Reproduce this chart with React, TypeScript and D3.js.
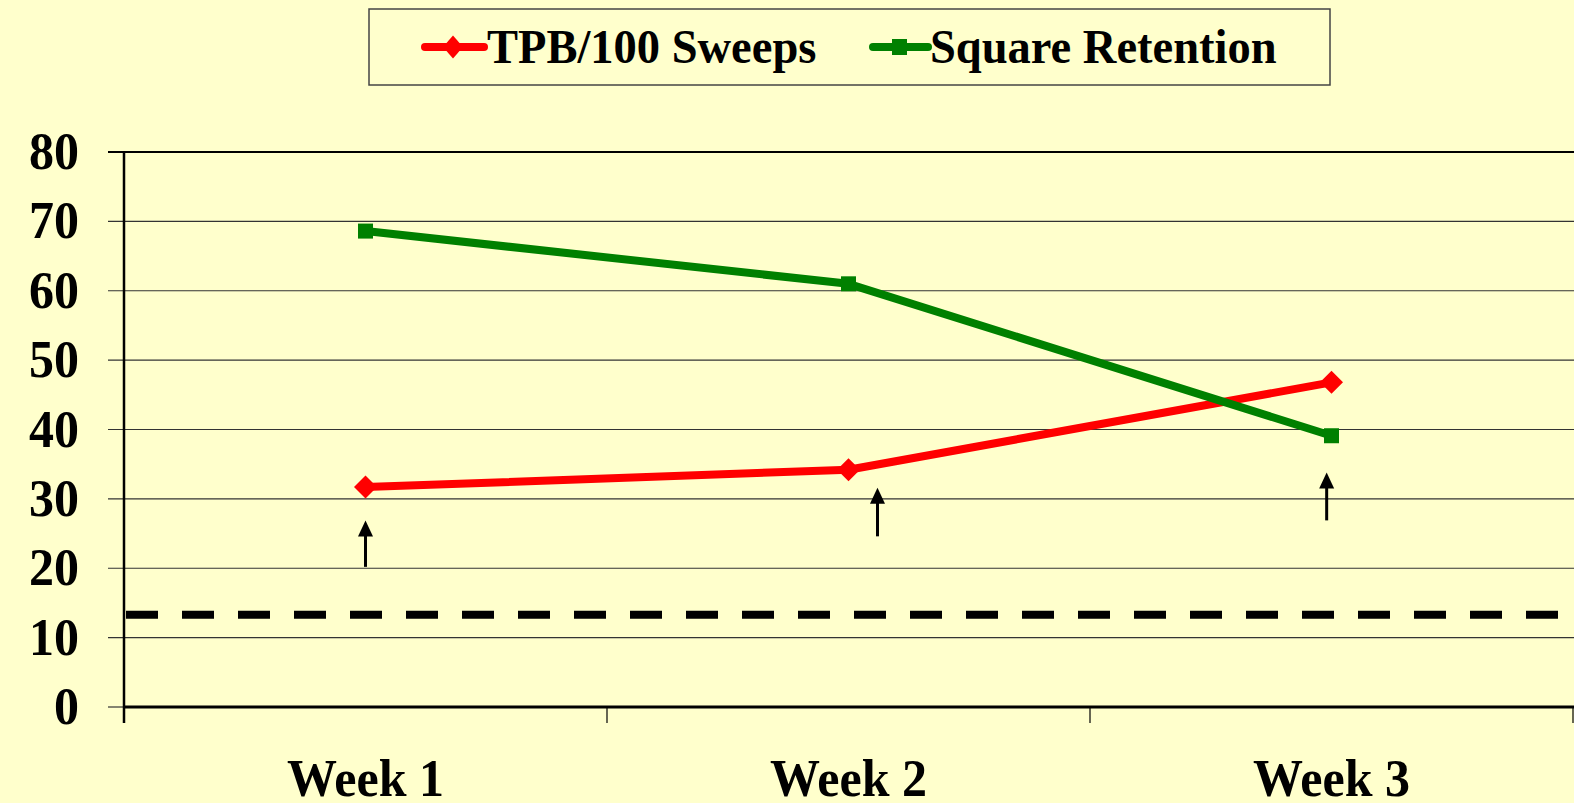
import * as d3 from 'd3';
import React from 'react';

const weeks = ['Week 1', 'Week 2', 'Week 3'];
const tpbSweeps = [31.7, 34.2, 46.8];
const squareRetention = [68.6, 61.0, 39.1];
const yTicks = [0, 10, 20, 30, 40, 50, 60, 70, 80];
const targetLevel = 13.3;
// arrow annotations: category, position inside band (0..1), from value, to value
const arrowWeeks = ['Week 1', 'Week 2', 'Week 3'];
const arrowBandPos = [0.5, 0.56, 0.49];
const arrowFrom = [20.2, 24.6, 26.9];
const arrowTo = [26.9, 31.6, 33.8];

export default function App() {
  const width = 1574;
  const height = 803;
  const marginLeft = 124;
  const marginRight = 1;
  const marginTop = 152;
  const marginBottom = 96;
  const font = '"Liberation Serif", "Times New Roman", serif';
  const bg = '#FFFFCC';

  const x = d3.scaleBand<string>()
    .domain(weeks)
    .range([marginLeft, width - marginRight]);
  const y = d3.scaleLinear()
    .domain([0, 80])
    .range([height - marginBottom, marginTop]);
  const cx = (w: string) => (x(w) ?? 0) + x.bandwidth() / 2;

  const line = d3.line<number>()
    .x((_, i) => cx(weeks[i]))
    .y((d) => y(d));

  const diamond = (px: number, py: number, rx: number, ry: number) =>
    `M${px},${py - ry}L${px + rx},${py}L${px},${py + ry}L${px - rx},${py}Z`;

  const bands = [...weeks.map((w) => x(w) ?? 0), width - marginRight];

  // text slightly stretched vertically, like the original
  const tallText = (tx: number, ty: number) => `translate(${tx},${ty}) scale(1,1.06)`;

  return (
    <div style={{ position: 'fixed', left: 0, top: 0 }}>
      <svg width={width} height={height} style={{ display: 'block', background: bg }}>
        {/* legend */}
        <rect x={369} y={9} width={961} height={76} fill={bg} stroke="#444" strokeWidth={1.5} />
        <line x1={425} x2={484} y1={47} y2={47} stroke="#FF0000" strokeWidth={8} strokeLinecap="round" />
        <path d={diamond(453, 47, 10, 11.5)} fill="#FF0000" />
        <text transform={tallText(487, 63)} fontFamily={font} fontWeight="bold" fontSize={46.5}>TPB/100 Sweeps</text>
        <line x1={873} x2={928} y1={47} y2={47} stroke="#008000" strokeWidth={8} strokeLinecap="round" />
        <rect x={892} y={39} width={15} height={16} fill="#008000" />
        <text transform={tallText(930, 63)} fontFamily={font} fontWeight="bold" fontSize={46.5}>Square Retention</text>

        {/* gridlines and y ticks */}
        {yTicks.map((t) => (
          <g key={t}>
            <line
              x1={marginLeft - 16}
              x2={t === 0 ? marginLeft : width}
              y1={y(t)}
              y2={y(t)}
              stroke={t === 80 ? '#000' : '#333'}
              strokeWidth={t === 80 ? 2 : 1.2}
            />
            <text
              transform={tallText(79, y(t) + 17)}
              textAnchor="end"
              fontFamily={font}
              fontWeight="bold"
              fontSize={50}
            >
              {t}
            </text>
          </g>
        ))}

        {/* target dashed line */}
        <line
          x1={marginLeft + 2}
          x2={width}
          y1={y(targetLevel)}
          y2={y(targetLevel)}
          stroke="#000"
          strokeWidth={8}
          strokeDasharray="32 24"
        />

        {/* axes */}
        <line x1={marginLeft} x2={marginLeft} y1={marginTop} y2={y(0) + 16} stroke="#000" strokeWidth={2.5} />
        <line x1={marginLeft} x2={width} y1={y(0)} y2={y(0)} stroke="#000" strokeWidth={3} />
        {bands.map((bx, i) => (
          <line key={i} x1={bx} x2={bx} y1={y(0)} y2={y(0) + 16} stroke="#000" strokeWidth={1.2} />
        ))}
        {weeks.map((w) => (
          <text key={w} transform={tallText(cx(w), 796)} textAnchor="middle" fontFamily={font} fontWeight="bold" fontSize={50}>
            {w}
          </text>
        ))}

        {/* series */}
        <path d={line(tpbSweeps) ?? ''} fill="none" stroke="#FF0000" strokeWidth={8} strokeLinejoin="round" />
        <path d={line(squareRetention) ?? ''} fill="none" stroke="#008000" strokeWidth={8} strokeLinejoin="round" />
        {tpbSweeps.map((v, i) => (
          <path key={i} d={diamond(cx(weeks[i]), y(v), 11.5, 11.5)} fill="#FF0000" />
        ))}
        {squareRetention.map((v, i) => (
          <rect key={i} x={cx(weeks[i]) - 7.5} y={y(v) - 7.5} width={15} height={15} fill="#008000" />
        ))}

        {/* arrows */}
        {arrowWeeks.map((w, i) => {
          const ax = (x(w) ?? 0) + x.bandwidth() * arrowBandPos[i];
          const y0 = y(arrowFrom[i]);
          const y1 = y(arrowTo[i]);
          return (
            <g key={i}>
              <line x1={ax} x2={ax} y1={y0} y2={y1 + 14} stroke="#000" strokeWidth={3} />
              <path d={`M${ax},${y1}L${ax + 7.5},${y1 + 16}L${ax - 7.5},${y1 + 16}Z`} fill="#000" />
            </g>
          );
        })}
      </svg>
    </div>
  );
}
